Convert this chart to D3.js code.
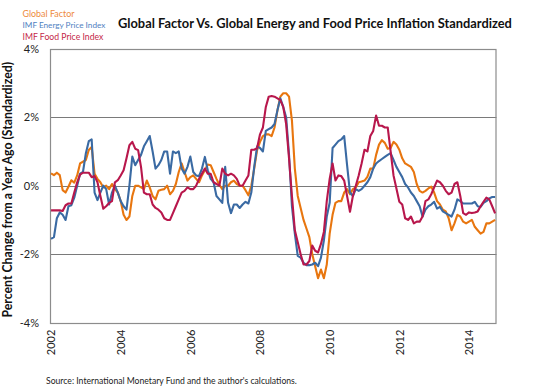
<!DOCTYPE html>
<html>
<head>
<meta charset="utf-8">
<script src="https://cdn.jsdelivr.net/npm/d3@7"></script>
<style>
  html, body { margin: 0; padding: 0; background: #fff; }
  svg { display: block; }
  text { font-family: "Lato", "Liberation Sans", sans-serif; }
</style>
</head>
<body>
<svg id="chart" width="536" height="390"></svg>
<script>
// ---------------- DATA ----------------
const startYear = 2002;           // monthly observations, Jan 2002 onwards
const seriesNames = ["Global Factor", "IMF Energy Price Index", "IMF Food Price Index"];
const yTicks = [-4, -2, 0, 2, 4];
const yTickLabels = ["-4%", "-2%", "0%", "2%", "4%"];
const xTickYears = [2002, 2004, 2006, 2008, 2010, 2012, 2014];

const globalFactor = [
  0.36,0.31,0.38,0.31,-0.13,-0.2,-0.03,0.16,0.09,0.3,
  0.65,0.7,0.75,1.04,1.13,0.35,0.2,0.1,-0.05,0.0,
  -0.1,0.05,-0.1,-0.2,-0.45,-0.85,-1.0,-0.9,-0.3,0.0,
  0.0,-0.05,-0.1,0.15,-0.05,-0.3,-0.4,-0.15,-0.12,-0.1,
  0.0,-0.25,-0.15,0.05,0.4,0.65,0.4,0.15,0.25,0.3,
  0.2,0.1,0.3,0.45,0.62,0.6,0.4,0.2,0.02,-0.1,
  0.0,0.0,0.1,0.15,0.05,0.0,0.0,-0.13,-0.28,0.0,
  0.5,1.04,1.28,1.45,1.5,1.5,1.45,1.7,2.2,2.6,
  2.7,2.7,2.6,1.9,0.5,-0.3,-0.65,-1.0,-1.25,-1.5,
  -2.0,-2.35,-2.7,-2.45,-2.7,-2.3,-1.4,-0.85,-0.5,-0.45,
  -0.45,-0.2,-0.1,-0.25,-0.1,-0.05,0.1,0.12,0.15,0.26,
  0.5,0.5,0.9,1.2,1.33,1.25,1.08,1.1,1.28,1.2,
  1.05,0.8,0.65,0.6,0.55,0.4,0.05,-0.15,-0.2,-0.15,
  -0.08,-0.03,-0.2,-0.45,-0.55,-0.7,-0.75,-0.95,-1.3,-1.1,
  -0.85,-0.9,-1.05,-1.1,-1.05,-1.0,-1.2,-1.3,-1.4,-1.35,
  -1.1,-1.1,-1.05,-1.0
];

const energyIndex = [
  -1.55,-1.5,-0.95,-0.78,-0.85,-1.0,-0.6,-0.57,-0.35,0.0,
  0.35,0.4,0.95,1.3,1.35,-0.2,-0.42,-0.2,0.0,-0.1,
  -0.55,-0.2,0.0,-0.2,-0.45,-0.6,-0.7,0.0,0.85,0.6,
  0.75,0.9,1.15,1.3,1.45,1.0,0.5,0.6,0.75,1.0,
  1.0,0.35,1.0,0.95,1.0,0.5,0.35,0.55,0.85,0.4,
  0.3,0.28,0.5,0.84,0.45,0.2,0.1,-0.3,-0.4,-0.5,
  0.55,-0.5,-0.8,-0.55,-0.55,-0.65,-0.55,-0.47,-0.52,-0.2,
  0.55,1.15,1.1,1.0,1.6,1.65,1.7,1.8,2.2,2.55,
  2.3,2.0,0.9,-0.6,-1.4,-2.05,-2.1,-2.25,-2.32,-2.32,
  -2.3,-2.25,-2.35,-2.1,-1.6,-0.9,-0.5,1.1,1.2,1.3,
  1.35,1.45,0.6,-0.2,-0.3,-0.1,-0.15,-0.1,0.0,0.1,
  0.25,0.5,0.65,0.72,0.78,0.84,0.9,0.95,0.75,0.55,
  0.4,0.25,0.05,-0.05,-0.2,-0.3,-0.45,-0.6,-0.9,-0.7,
  -0.6,-0.55,-0.47,-0.67,-0.62,-0.75,-0.8,-0.85,-0.9,-0.7,
  -0.4,-0.45,-0.52,-0.52,-0.52,-0.52,-0.47,-0.6,-0.62,-0.5,
  -0.45,-0.37,-0.33,-0.33
];

const foodIndex = [
  -0.72,-0.72,-0.72,-0.72,-0.74,-0.57,-0.52,-0.52,-0.2,0.1,
  0.32,0.38,0.38,0.38,0.25,0.28,0.1,-0.3,-0.67,-0.6,
  -0.5,-0.45,0.1,0.16,0.3,0.45,0.8,1.18,1.28,1.08,
  1.04,0.55,-0.2,-0.25,-0.25,-0.55,-0.65,-0.7,-0.78,-0.95,
  -1.0,-1.0,-0.8,-0.6,-0.4,-0.2,-0.15,-0.05,-0.1,-0.1,
  0.0,0.2,0.35,0.5,0.35,0.35,0.1,0.05,0.0,0.5,
  0.35,0.3,0.35,0.3,0.2,0.0,0.0,0.15,0.3,1.05,
  1.05,1.1,1.5,1.7,2.3,2.6,2.62,2.6,2.55,2.5,
  2.3,1.8,0.8,-0.3,-1.3,-1.65,-2.0,-2.3,-2.3,-2.2,
  -1.75,-1.9,-1.95,-1.7,-1.35,-0.45,0.2,0.65,0.15,0.3,
  0.28,0.15,-0.3,-0.76,-0.3,0.0,0.3,0.65,1.05,1.0,
  1.45,1.6,2.05,1.75,1.75,1.7,1.7,1.0,0.3,-0.08,
  -0.47,-0.55,-0.95,-1.0,-0.9,-1.1,-1.05,-1.05,-0.9,-0.45,
  -0.4,-0.25,-0.05,0.15,0.1,0.0,-0.15,-0.25,-0.2,0.05,
  0.1,-0.3,-0.8,-0.85,-0.78,-0.8,-0.78,-0.75,-0.6,-0.47,
  -0.35,-0.4,-0.6,-0.81
];

// monthly time index (fractional years)
const months = globalFactor.map((_, i) => startYear + i / 12);

// ---------------- LAYOUT ----------------
const svg = d3.select("#chart");
const plot = { left: 50, right: 496.5, top: 48.7, bottom: 322.7 };

const x = d3.scaleLinear().domain([2001.97, 2014.79]).range([plot.left, plot.right]);
const y = d3.scaleLinear().domain([-4, 4]).range([plot.bottom, plot.top]);

const lineColors = ["#E8760F", "#3A6AA3", "#B8174C"];
const legendColors = ["#EE8A3C", "#4F7FBF", "#C41F48"];

function fitText(sel, target) {
  const node = sel.node();
  const fs = parseFloat(sel.attr("font-size"));
  const w = node.getComputedTextLength();
  if (w > 0) sel.attr("font-size", (fs * target / w).toFixed(2));
}

// gridlines
svg.append("g").selectAll("line")
  .data([-2, 0, 2])
  .join("line")
  .attr("x1", plot.left).attr("x2", plot.right)
  .attr("y1", d => Math.round(y(d)) + 0.5).attr("y2", d => Math.round(y(d)) + 0.5)
  .attr("stroke", "#7a7a7a").attr("stroke-width", 1);

// frame
svg.append("rect")
  .attr("x", plot.left + 0.5).attr("y", Math.round(plot.top) + 0.5)
  .attr("width", plot.right - plot.left - 1).attr("height", Math.round(plot.bottom) - Math.round(plot.top))
  .attr("fill", "none").attr("stroke", "#8c8c8c").attr("stroke-width", 1.2);

// y axis tick labels
const yAxis = d3.axisLeft(y).tickValues(yTicks).tickSize(0).tickPadding(0)
  .tickFormat((d, i) => yTickLabels[yTicks.indexOf(d)]);
const yg = svg.append("g").attr("transform", `translate(${plot.left - 11},0)`).call(yAxis);
yg.select(".domain").remove();
yg.selectAll("text").attr("font-size", 11).attr("fill", "#222")
  .attr("font-family", "Lato, 'Liberation Sans', sans-serif");

// x axis tick labels (rotated)
const xAxis = d3.axisBottom(x).tickValues(xTickYears).tickSize(0).tickFormat(d3.format("d"));
const xg = svg.append("g").attr("transform", `translate(0,${plot.bottom})`).call(xAxis);
xg.select(".domain").remove();
xg.selectAll("text")
  .attr("font-size", 11).attr("fill", "#222")
  .attr("font-family", "Lato, 'Liberation Sans', sans-serif")
  .attr("transform", "rotate(-90)")
  .attr("text-anchor", "end")
  .attr("x", -7).attr("y", 0).attr("dy", "0.35em");

// lines
const allSeries = [globalFactor, energyIndex, foodIndex];
const line = d3.line().x((d, i) => x(months[i])).y(d => y(d));
// draw order: orange, blue, red on top
[0, 1, 2].forEach(k => {
  svg.append("path")
    .datum(allSeries[k])
    .attr("d", line)
    .attr("fill", "none")
    .attr("stroke", lineColors[k])
    .attr("stroke-width", 2.1)
    .attr("stroke-linejoin", "round");
});

// legend (text only)
const legendY = [13.5, 25, 36.5];
const legendW = [52, 83, 81];
seriesNames.forEach((name, i) => {
  const t = svg.append("text")
    .attr("x", 22.5).attr("y", legendY[i]).attr("dy", "0.35em")
    .attr("font-size", 10).attr("fill", legendColors[i])
    .text(name);
  fitText(t, legendW[i]);
});

// title
const title = svg.append("text")
  .attr("x", 118).attr("y", 24).attr("dy", "0.35em")
  .attr("font-size", 14).attr("font-weight", "bold").attr("fill", "#111")
  .text("Global Factor Vs. Global Energy and Food Price Inflation Standardized");
fitText(title, 394);

// y axis title
const yTitle = svg.append("text")
  .attr("transform", `translate(8,${(plot.top + plot.bottom) / 2 + 4}) rotate(-90)`)
  .attr("text-anchor", "middle").attr("dy", "0.35em")
  .attr("font-size", 11).attr("font-weight", "bold").attr("fill", "#111")
  .text("Percent Change from a Year Ago (Standardized)");
fitText(yTitle, 256);

// source
const src = svg.append("text")
  .attr("x", 46).attr("y", 381).attr("dy", "0.35em")
  .attr("font-size", 9).attr("fill", "#222")
  .text("Source: International Monetary Fund and the author's calculations.");
fitText(src, 251);
</script>
</body>
</html>
